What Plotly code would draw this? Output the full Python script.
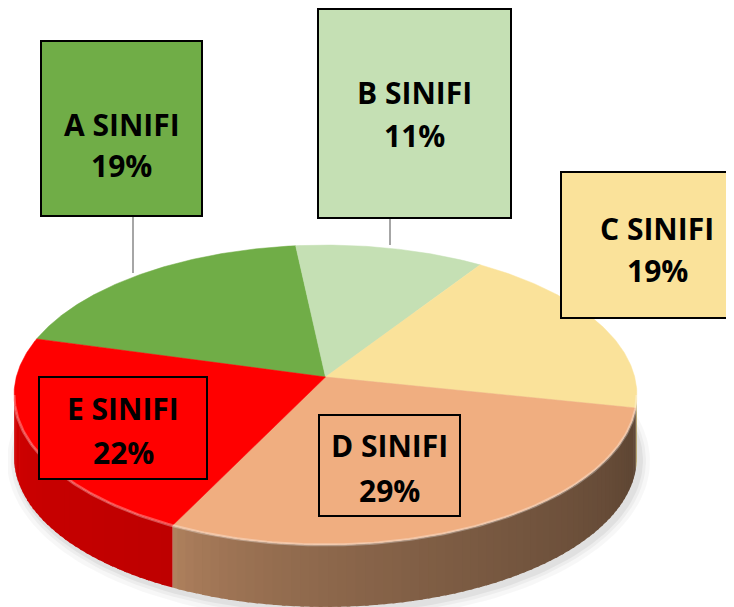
import numpy as np
import plotly.graph_objects as go

# ---------------- data ----------------
categories = ["A SINIFI", "B SINIFI", "C SINIFI", "D SINIFI", "E SINIFI"]
values = [19, 11, 19, 29, 22]

# ---------------- style ----------------
top_colors = ["#70AD47", "#C5E0B4", "#FAE29A", "#F0AE80", "#FF0000"]
side_light = [(90, 140, 57), (160, 185, 145), (215, 192, 120), (180, 132, 96), (214, 0, 0)]
side_dark = [(60, 100, 40), (120, 145, 110), (160, 140, 80), (92, 68, 50), (190, 0, 0)]

CX, CY = 325.5, 377.0       # pie centre (pixels)
SX, SY, K = 309.2, 147.8, 0.12   # perspective projection params
DEPTH = 62
START = -74.6               # first slice start angle (deg, clockwise from top)
PAGE_OFF = 8                # default body margin of the html page
W, H = 734, 607


def proj(theta_deg, dy=0.0):
    t = np.radians(theta_deg)
    u, v = np.sin(t), np.cos(t)
    x = CX + SX * u / (1 + K * v)
    y = CY - SY * v / (1 + K * v) + dy
    return x, y


def rgb(c):
    return "rgb(%d,%d,%d)" % tuple(int(round(v)) for v in c)


total = float(sum(values))
angles = []
a = START
for v in values:
    b = a + v / total * 360.0
    angles.append((a, b))
    a = b

fig = go.Figure()

# soft shadow
for i, (grow, alpha) in enumerate([(10, 0.03), (6, 0.04), (3, 0.05)]):
    th = np.linspace(0, 360, 200)
    xs, ys = proj(th, DEPTH)
    xs = CX + (xs - CX) * (1 + grow / 310) + 3
    ys = (ys - (CY + DEPTH)) * (1 + grow / 150) + CY + DEPTH + 3
    fig.add_trace(go.Scatter(x=xs, y=ys, fill="toself", mode="lines",
                             line=dict(width=0), fillcolor="rgba(0,0,0,%.2f)" % alpha,
                             hoverinfo="skip", showlegend=False))

# sides (front-facing part only)
th_r = np.degrees(np.arccos(-K))
th_l = 360 - th_r
for i, (a0, b0) in enumerate(angles):
    for off in (0, 360, -360):
        lo, hi = max(a0 + off, th_r), min(b0 + off, th_l)
        if hi <= lo:
            continue
        n = max(2, int((hi - lo) / 1.5))
        edges = np.linspace(hi, lo, n + 1)
        for j in range(n):
            t = ((j + 0.5) / n) ** 0.6
            col = [side_light[i][c] + (side_dark[i][c] - side_light[i][c]) * t for c in range(3)]
            s0 = edges[j] + (0.6 if j > 0 else 0)
            s1 = edges[j + 1]
            seg = np.linspace(s0, s1, 4)
            xt, yt = proj(seg)
            xb, yb = proj(seg[::-1], DEPTH)
            fig.add_trace(go.Scatter(x=np.concatenate([xt, xb]), y=np.concatenate([yt, yb]),
                                     fill="toself", mode="lines",
                                     line=dict(width=0), fillcolor=rgb(col),
                                     hoverinfo="skip", showlegend=False))

# top faces
for i, (a0, b0) in enumerate(angles):
    th = np.linspace(a0, b0, max(3, int((b0 - a0) * 2)))
    xs, ys = proj(th)
    fig.add_trace(go.Scatter(x=np.concatenate([[CX], xs, [CX]]),
                             y=np.concatenate([[CY], ys, [CY]]),
                             fill="toself", mode="lines",
                             line=dict(width=0.5, color=top_colors[i]),
                             fillcolor=top_colors[i], name=categories[i],
                             text=["%s %d%%" % (categories[i], round(values[i] / total * 100))] * (len(xs) + 2),
                             hoverinfo="text", showlegend=False))

# rim highlight on the front edge
th = np.linspace(th_r, th_l, 200)
xs, ys = proj(th)
fig.add_trace(go.Scatter(x=xs, y=ys, mode="lines",
                         line=dict(width=3, color="rgba(255,255,255,0.30)"),
                         hoverinfo="skip", showlegend=False))

# ---------------- label boxes ----------------
boxes = [  # x0, y0, x1, y1, text-x, line1-y, line2-y
    (41, 41, 202, 216, 121.5, 124, 165),
    (318, 9, 511, 218, 414.5, 92, 135),
    (561, 172, 800, 318, 657, 228, 270),
    (319, 415, 460, 516, 389.5, 445, 490),
    (39, 377, 207, 479, 123, 408, 452),
]
leaders = [(133, 216, 133, 273), (390, 218, 390, 245)]

shapes = []
for (x0, y0, x1, y1) in leaders:
    shapes.append(dict(type="line", x0=x0, y0=y0, x1=x1, y1=y1, xref="x", yref="y",
                       line=dict(color="#A6A6A6", width=2), layer="above"))
annotations = []
for i, (x0, y0, x1, y1, tx, l1, l2) in enumerate(boxes):
    shapes.append(dict(type="rect", x0=x0, y0=y0, x1=x1, y1=y1, xref="x", yref="y",
                       line=dict(color="black", width=2), fillcolor=top_colors[i], layer="above"))
    pct = "%d%%" % round(values[i] / total * 100)
    for txt, yy in ((categories[i], l1), (pct, l2)):
        annotations.append(dict(x=tx, y=yy, xref="x", yref="y", text="<b>%s</b>" % txt,
                                showarrow=False, xanchor="center", yanchor="middle",
                                font=dict(family="Open Sans", size=30, color="black")))

fig.update_layout(
    width=W - PAGE_OFF, height=H - PAGE_OFF,
    margin=dict(l=0, r=0, t=0, b=0),
    paper_bgcolor="white", plot_bgcolor="white",
    xaxis=dict(range=[PAGE_OFF, W], visible=False, fixedrange=True),
    yaxis=dict(range=[H, PAGE_OFF], visible=False, fixedrange=True),
    shapes=shapes, annotations=annotations, showlegend=False,
)

fig.write_html("out.html")
